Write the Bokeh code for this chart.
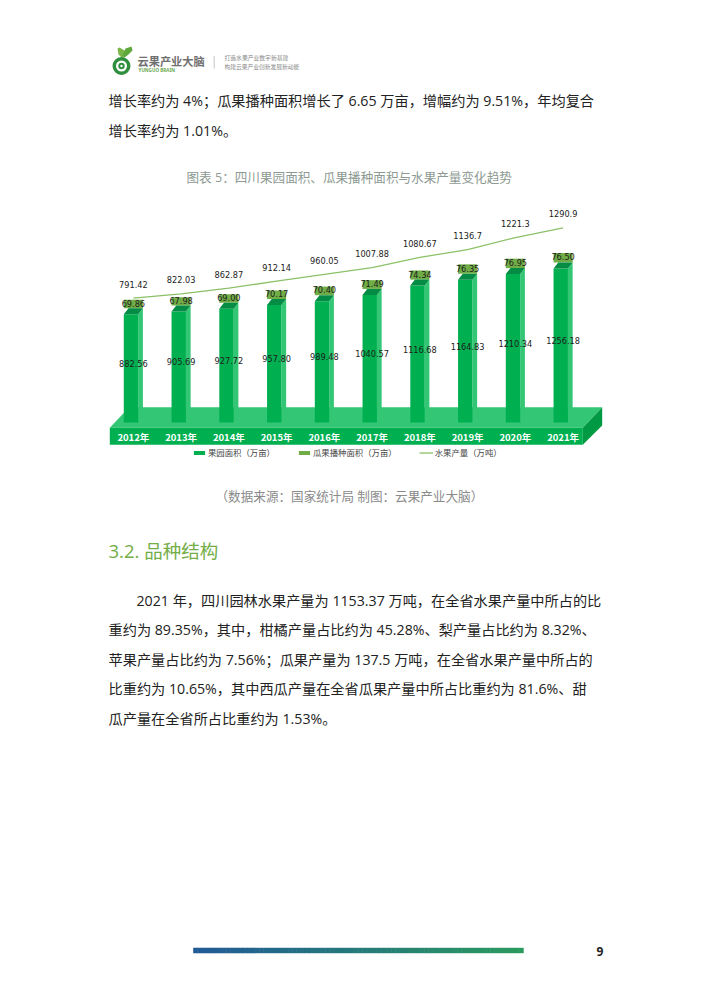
from bokeh.plotting import figure
from bokeh.models import Range1d, Legend, LegendItem
from bokeh.core.properties import value
from bokeh.embed import file_html
from bokeh.resources import INLINE

years = [2012, 2013, 2014, 2015, 2016, 2017, 2018, 2019, 2020, 2021]
tick_labels = ["2012年", "2013年", "2014年", "2015年", "2016年", "2017年", "2018年", "2019年", "2020年", "2021年"]
orchard = [882.56, 905.69, 927.72, 957.80, 989.48, 1040.57, 1116.68, 1164.83, 1210.34, 1256.18]
melon = [69.86, 67.98, 69.00, 70.17, 70.40, 71.49, 74.34, 76.35, 76.95, 76.50]
melon_text = ["69.86", "67.98", "69.00", "70.17", "70.40", "71.49", "74.34", "76.35", "76.95", "76.50"]
orchard_text = ["882.56", "905.69", "927.72", "957.80", "989.48", "1040.57", "1116.68", "1164.83", "1210.34", "1256.18"]
fruit = [791.42, 822.03, 862.87, 912.14, 960.05, 1007.88, 1080.67, 1136.7, 1221.3, 1290.9]
fruit_text = ["791.42", "822.03", "862.87", "912.14", "960.05", "1007.88", "1080.67", "1136.7", "1221.3", "1290.9"]

CJK = value("Noto Sans CJK SC")
MIX = value("Open Sans, Noto Sans CJK SC")
LAT = value("DejaVu Sans")
COMMA, SEMI, COLON, LP, RP = "\uff0c", "\uff1b", "\uff1a", "\uff08", "\uff09"
L, T, W, H = 0, 0, 694, 988
# page-pixel calibration of the chart scales
X0, XSTEP = 130.5, 47.75
Y_BASE, AREA_PX = 422.0, 0.1226
Y_FRUIT0, FRUIT_PX = 409.3, 0.141
BAR = 14.4 / XSTEP
DX = 4.7 / XSTEP
DY = 6.0 / AREA_PX

p = figure(width=W, height=H, output_backend="svg", toolbar_location=None,
           x_range=Range1d(L, L + W), y_range=Range1d(T + H, T),
           min_border=0, min_border_left=0, min_border_right=0, min_border_top=0, min_border_bottom=0,
           outline_line_color=None, background_fill_color="white", border_fill_color="white")
p.axis.visible = False
p.grid.visible = False
p.extra_x_ranges["year"] = Range1d(2012 + (L - X0) / XSTEP, 2012 + (L + W - X0) / XSTEP)
p.extra_y_ranges["area"] = Range1d((Y_BASE - T - H) / AREA_PX, (Y_BASE - T) / AREA_PX)
p.extra_y_ranges["fruit"] = Range1d((Y_FRUIT0 - T - H) / FRUIT_PX, (Y_FRUIT0 - T) / FRUIT_PX)
ar = dict(x_range_name="year", y_range_name="area")
fr = dict(x_range_name="year", y_range_name="fruit")


def page_text(x, y, s, size, color="#222222", font=CJK, align="left", style="normal"):
    p.text([x], [y], text=[s], text_font=font, text_font_size=f"{size}px", text_color=color,
           text_align=align, text_baseline="middle", text_font_style=style)


# header logo
p.patch([117, 118, 122, 126, 124, 119], [48, 54, 58, 54, 50, 47], fill_color="#7ab648", line_color=None)
p.patch([122, 125, 131, 132, 128, 124], [55, 48, 46, 50, 54, 57], fill_color="#5fa83c", line_color=None)
p.annulus([121], [65.5], inner_radius=5.5, outer_radius=9, fill_color="#2f8f3e", line_color=None)
p.annulus([121], [65.5], inner_radius=1.2, outer_radius=3.2, fill_color="#2f8f3e", line_color=None)
page_text(137, 60, "云果产业大脑", 11.2, "#6f6f6f", style="bold")
page_text(138, 69.7, "YUNGUO BRAIN", 4.6, "#6aa84f", value("Noto Sans"), style="bold")
p.segment([213.7], [55.7], [213.7], [68], line_color="#c4c4c4", line_width=1)
page_text(224, 57, "打造水果产业数字新基建", 5.8, "#8a8a8a")
page_text(224, 66, "构建云果产业创新发展新动能", 5.75, "#8a8a8a")

# body text
for y, s in [(99.5, f"增长率约为 4%{SEMI}瓜果播种面积增长了 6.65 万亩{COMMA}增幅约为 9.51%{COMMA}年均复合"),
             (129.5, "增长率约为 1.01%。"),
             (599.5, f"2021 年{COMMA}四川园林水果产量为 1153.37 万吨{COMMA}在全省水果产量中所占的比"),
             (628.5, f"重约为 89.35%{COMMA}其中{COMMA}柑橘产量占比约为 45.28%、梨产量占比约为 8.32%、"),
             (658.5, f"苹果产量占比约为 7.56%{SEMI}瓜果产量为 137.5 万吨{COMMA}在全省水果产量中所占的"),
             (687.5, f"比重约为 10.65%{COMMA}其中西瓜产量在全省瓜果产量中所占比重约为 81.6%、甜"),
             (717.5, "瓜产量在全省所占比重约为 1.53%。")]:
    x = 136 if s.startswith("2021") else 108
    page_text(x, y, s, 14.2, font=MIX)
page_text(186, 177, f"图表 5{COLON}四川果园面积、瓜果播种面积与水果产量变化趋势", 12.6, "#8d9a92", MIX)
page_text(215, 496, f"{LP}数据来源{COLON}国家统计局   制图{COLON}云果产业大脑{RP}", 12.6, "#8a8a8a", MIX)
page_text(108, 549.5, "3.2. 品种结构", 18.5, "#72ad47", MIX)

# chart floor
p.patch([109.3, 128.7, 601.7, 582.3], [427.3, 406.7, 406.7, 427.3], fill_color="#33c674", line_color=None)
p.quad(left=[109.3], right=[582.3], top=[427.3], bottom=[444.3], fill_color="#00b050", line_color=None)
p.patch([582.3, 601.7, 601.7, 582.3], [427.3, 406.7, 425, 444.3], fill_color="#009a44", line_color=None)

# bars
lefts = [y - BAR / 2 for y in years]
rights = [y + BAR / 2 for y in years]
melon_r = p.quad(left=lefts, right=[r + DX for r in rights], bottom=[o + DY for o in orchard],
                 top=[o + DY + m for o, m in zip(orchard, melon)],
                 fill_color="#70ad47", line_color=None, **ar)
p.patches([[r, r + DX, r + DX, r] for r in rights],
          [[0, DY, o + DY, o] for o in orchard], fill_color="#33c674", line_color=None, **ar)
orchard_r = p.quad(left=lefts, right=rights, bottom=[0] * 10, top=orchard,
                   fill_color="#00b050", line_color=None, **ar)
p.patches([[a, a + DX, b + DX, b] for a, b in zip(lefts, rights)],
          [[o, o + DY, o + DY, o] for o in orchard], fill_color="#058c44", line_color=None, **ar)

centers = [y + DX / 2 for y in years]
fruit_r = p.line(centers, fruit, line_color="#8cc168", line_width=1.3, **fr)

# value labels
p.text(centers, [o / 2 for o in orchard], text=orchard_text, text_font=LAT, text_font_size="8.2px",
       text_color="#1c1c1c", text_align="center", text_baseline="middle", y_offset=-5, **ar)
p.text(centers, [o + DY + m / 2 for o, m in zip(orchard, melon)], text=melon_text, text_font=LAT,
       text_font_size="8.2px", text_color="#1c1c1c", text_align="center", text_baseline="middle", y_offset=-1, **ar)
p.text(centers, fruit, text=fruit_text, text_font=LAT, text_font_size="8.2px",
       text_color="#1c1c1c", text_align="center", text_baseline="middle", y_offset=-14, **fr)
p.text(centers, [0] * 10, text=tick_labels, text_font=CJK, text_font_size="9.5px", text_font_style="bold",
       text_color="white", text_align="center", text_baseline="middle", y_offset=14.5, **ar)

legend = Legend(items=[LegendItem(label=f"果园面积{LP}万亩{RP}", renderers=[orchard_r]),
                       LegendItem(label=f"瓜果播种面积{LP}万亩{RP}", renderers=[melon_r]),
                       LegendItem(label=f"水果产量{LP}万吨{RP}", renderers=[fruit_r])],
                orientation="horizontal", location=(192, 530), border_line_color=None,
                background_fill_alpha=0, padding=0, margin=0, spacing=22, label_standoff=2,
                glyph_width=14, glyph_height=5, label_height=10,
                label_text_font="Noto Sans CJK SC", label_text_font_size="8.4px", label_text_color="#444444",
                label_text_baseline="middle")
p.add_layout(legend)

# footer
n = 80
a, b = (32, 90, 150), (42, 154, 94)
xs = [192.7 + (522.7 - 192.7) * i / n for i in range(n + 1)]
cols = ["#%02x%02x%02x" % tuple(round(a[k] + (b[k] - a[k]) * i / (n - 1)) for k in range(3)) for i in range(n)]
p.quad(left=xs[:-1], right=[x + 0.5 for x in xs[1:]], top=[947.3] * n, bottom=[952.7] * n,
       fill_color=cols, line_color=None)
page_text(599.5, 950.5, "9", 12, "#222222", value("Open Sans"), "center", "bold")

open("out.html", "w").write(file_html(p, INLINE))
